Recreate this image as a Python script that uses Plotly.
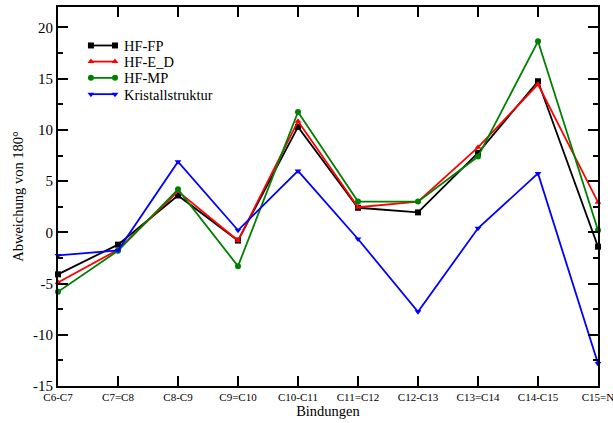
import plotly.graph_objects as go

bindungen = ["C6-C7", "C7=C8", "C8-C9", "C9=C10", "C10-C11", "C11=C12",
             "C12-C13", "C13=C14", "C14-C15", "C15=N"]
hf_fp = [-4.1, -1.2, 3.6, -0.8, 10.3, 2.4, 1.95, 7.75, 14.75, -1.4]
hf_ed = [-4.9, -1.7, 4.0, -0.8, 10.85, 2.45, 3.0, 8.3, 14.45, 2.95]
hf_mp = [-5.8, -1.8, 4.2, -3.3, 11.75, 3.0, 3.0, 7.4, 18.65, 0.2]
kristall = [-2.25, -1.75, 6.9, 0.2, 6.0, -0.65, -7.75, 0.4, 5.75, -12.8]

x = list(range(len(bindungen)))

series = [
    ("HF-FP", hf_fp, "black", "square"),
    ("HF-E_D", hf_ed, "red", "triangle-up"),
    ("HF-MP", hf_mp, "green", "circle"),
    ("Kristallstruktur", kristall, "blue", "triangle-down"),
]

font = "Liberation Serif"

fig = go.Figure()
for name, vals, color, symbol in series:
    fig.add_trace(go.Scatter(
        x=x, y=vals, name=name, mode="lines+markers",
        line=dict(color=color, width=1.8),
        marker=dict(symbol=symbol, size=6, color=color),
        cliponaxis=False, showlegend=False,
    ))

# Compact legend drawn on an overlay axis (0..1 in both directions)
leg_x0, leg_x1, leg_tx = 0.061, 0.1056, 0.119
leg_rows = [0.8985, 0.8560, 0.8130, 0.7700]
for (name, _, color, symbol), ly in zip(series, leg_rows):
    fig.add_trace(go.Scatter(
        x=[leg_x0, leg_x1], y=[ly, ly], mode="lines+markers",
        line=dict(color=color, width=1.8),
        marker=dict(symbol=symbol, size=6, color=color),
        xaxis="x2", yaxis="y2", showlegend=False, hoverinfo="skip",
        cliponaxis=False,
    ))
    fig.add_annotation(
        x=leg_tx, y=ly, xref="paper", yref="paper", text=name,
        showarrow=False, xanchor="left", yanchor="middle",
        font=dict(size=14.5, family=font, color="black"),
        height=15, valign="middle",
    )

fig.update_layout(
    width=613, height=423,
    margin=dict(l=58, r=15, t=7, b=37),
    paper_bgcolor="white", plot_bgcolor="white",
    font=dict(family=font, color="black"),
    showlegend=False,
    xaxis=dict(
        range=[0, 9], tickvals=x, ticktext=bindungen,
        tickfont=dict(size=11, family=font),
        ticks="inside", ticklen=10, tickwidth=1.5, tickcolor="black",
        showline=True, linecolor="black", linewidth=2, mirror="ticks",
        showgrid=False, zeroline=False, ticklabeloverflow="allow",
        automargin=False,
        title=dict(text="Bindungen", font=dict(size=14.5, family=font), standoff=0),
    ),
    yaxis=dict(
        range=[-15, 22], tickvals=[-15, -10, -5, 0, 5, 10, 15, 20],
        ticktext=["-15", "-10", "-5", "0", "5", "10", "15", "20"],
        tickfont=dict(size=15, family=font),
        ticks="inside", ticklen=10, tickwidth=1.5, tickcolor="black",
        minor=dict(tickvals=[-12.5, -7.5, -2.5, 2.5, 7.5, 12.5, 17.5],
                   ticks="inside", ticklen=5, tickwidth=1.5, tickcolor="black",
                   showgrid=False),
        showline=True, linecolor="black", linewidth=2, mirror="ticks",
        showgrid=False, zeroline=False, automargin=False,
        title=dict(text="Abweichung von 180°", font=dict(size=14.5, family=font), standoff=6),
    ),
    xaxis2=dict(overlaying="x", range=[0, 1], visible=False, fixedrange=True),
    yaxis2=dict(overlaying="y", range=[0, 1], visible=False, fixedrange=True),
)

fig.write_html("out.html")
